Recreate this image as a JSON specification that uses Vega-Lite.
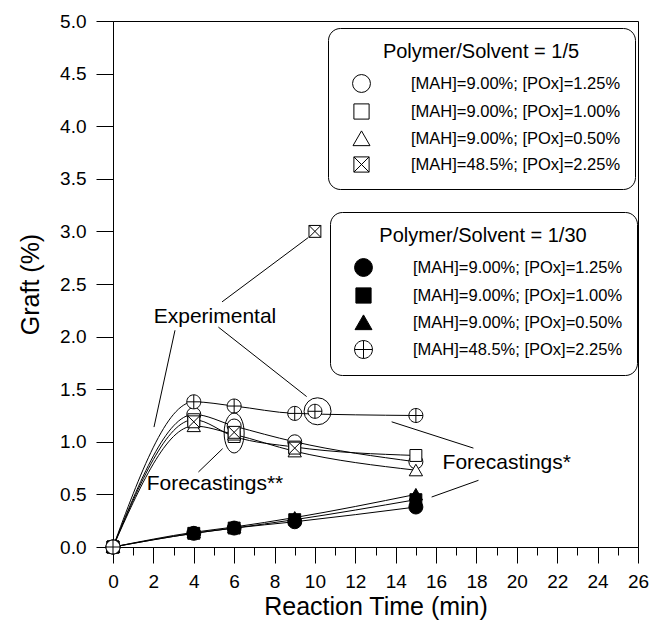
{
  "$schema": "https://vega.github.io/schema/vega-lite/v6.json",
  "width": 525,
  "height": 526,
  "autosize": {"type": "none"},
  "padding": {"left": 113, "top": 21, "right": 14, "bottom": 76},
  "config": {
    "font": "Liberation Sans",
    "view": {"stroke": "black", "strokeWidth": 1},
    "axis": {"domainColor": "black", "tickColor": "black", "labelColor": "black", "titleColor": "black", "grid": false, "labelFontSize": 19, "titleFontSize": 25, "titleFontWeight": "normal", "domainWidth": 1, "tickWidth": 1},
    "legend": {"strokeColor": "black", "strokeWidth": 1, "cornerRadius": 12, "fillColor": "white", "padding": 14, "titleFontSize": 20, "titleFontWeight": "normal", "titleColor": "black", "titleAnchor": "middle", "titlePadding": 12, "labelFontSize": 16.5, "labelColor": "black", "labelOffset": 40, "symbolSize": 320, "symbolStrokeWidth": 1, "symbolStrokeColor": "black", "symbolOffset": 10, "rowPadding": 6, "labelLimit": 400, "titleLimit": 400}
  },
  "datasets": {
    "points": [
      {"group": "1/5", "label": "[MAH]=9.00%; [POx]=1.25%", "t": 0, "g": 0},
      {"group": "1/5", "label": "[MAH]=9.00%; [POx]=1.25%", "t": 4, "g": 1.26},
      {"group": "1/5", "label": "[MAH]=9.00%; [POx]=1.25%", "t": 6, "g": 1.15},
      {"group": "1/5", "label": "[MAH]=9.00%; [POx]=1.25%", "t": 9, "g": 1.0},
      {"group": "1/5", "label": "[MAH]=9.00%; [POx]=1.25%", "t": 15, "g": 0.81},
      {"group": "1/5", "label": "[MAH]=9.00%; [POx]=1.00%", "t": 0, "g": 0},
      {"group": "1/5", "label": "[MAH]=9.00%; [POx]=1.00%", "t": 4, "g": 1.21},
      {"group": "1/5", "label": "[MAH]=9.00%; [POx]=1.00%", "t": 6, "g": 1.05},
      {"group": "1/5", "label": "[MAH]=9.00%; [POx]=1.00%", "t": 9, "g": 0.95},
      {"group": "1/5", "label": "[MAH]=9.00%; [POx]=1.00%", "t": 15, "g": 0.87},
      {"group": "1/5", "label": "[MAH]=9.00%; [POx]=0.50%", "t": 0, "g": 0},
      {"group": "1/5", "label": "[MAH]=9.00%; [POx]=0.50%", "t": 4, "g": 1.15},
      {"group": "1/5", "label": "[MAH]=9.00%; [POx]=0.50%", "t": 6, "g": 1.07},
      {"group": "1/5", "label": "[MAH]=9.00%; [POx]=0.50%", "t": 9, "g": 0.91},
      {"group": "1/5", "label": "[MAH]=9.00%; [POx]=0.50%", "t": 15, "g": 0.73},
      {"group": "1/5", "label": "[MAH]=48.5%; [POx]=2.25%", "t": 0, "g": 0},
      {"group": "1/5", "label": "[MAH]=48.5%; [POx]=2.25%", "t": 4, "g": 1.19},
      {"group": "1/5", "label": "[MAH]=48.5%; [POx]=2.25%", "t": 6, "g": 1.09},
      {"group": "1/5", "label": "[MAH]=48.5%; [POx]=2.25%", "t": 9, "g": 0.94},
      {"group": "1/5", "label": "[MAH]=48.5%; [POx]=2.25%", "t": 10, "g": 3.0},
      {"group": "1/30", "label": "[MAH]=9.00%; [POx]=1.25%", "t": 0, "g": 0},
      {"group": "1/30", "label": "[MAH]=9.00%; [POx]=1.25%", "t": 4, "g": 0.13},
      {"group": "1/30", "label": "[MAH]=9.00%; [POx]=1.25%", "t": 6, "g": 0.18},
      {"group": "1/30", "label": "[MAH]=9.00%; [POx]=1.25%", "t": 9, "g": 0.24},
      {"group": "1/30", "label": "[MAH]=9.00%; [POx]=1.25%", "t": 15, "g": 0.38},
      {"group": "1/30", "label": "[MAH]=9.00%; [POx]=1.00%", "t": 0, "g": 0},
      {"group": "1/30", "label": "[MAH]=9.00%; [POx]=1.00%", "t": 4, "g": 0.13},
      {"group": "1/30", "label": "[MAH]=9.00%; [POx]=1.00%", "t": 6, "g": 0.18},
      {"group": "1/30", "label": "[MAH]=9.00%; [POx]=1.00%", "t": 9, "g": 0.26},
      {"group": "1/30", "label": "[MAH]=9.00%; [POx]=1.00%", "t": 15, "g": 0.45},
      {"group": "1/30", "label": "[MAH]=9.00%; [POx]=0.50%", "t": 0, "g": 0},
      {"group": "1/30", "label": "[MAH]=9.00%; [POx]=0.50%", "t": 4, "g": 0.14},
      {"group": "1/30", "label": "[MAH]=9.00%; [POx]=0.50%", "t": 6, "g": 0.19},
      {"group": "1/30", "label": "[MAH]=9.00%; [POx]=0.50%", "t": 9, "g": 0.28},
      {"group": "1/30", "label": "[MAH]=9.00%; [POx]=0.50%", "t": 15, "g": 0.5},
      {"group": "1/30", "label": "[MAH]=48.5%; [POx]=2.25%", "t": 0, "g": 0},
      {"group": "1/30", "label": "[MAH]=48.5%; [POx]=2.25%", "t": 4, "g": 1.38},
      {"group": "1/30", "label": "[MAH]=48.5%; [POx]=2.25%", "t": 6, "g": 1.34},
      {"group": "1/30", "label": "[MAH]=48.5%; [POx]=2.25%", "t": 9, "g": 1.27},
      {"group": "1/30", "label": "[MAH]=48.5%; [POx]=2.25%", "t": 10, "g": 1.29},
      {"group": "1/30", "label": "[MAH]=48.5%; [POx]=2.25%", "t": 15, "g": 1.25}
    ],
    "notes": [
      {"t": 5.05, "g": 2.13, "text": "Experimental"},
      {"t": 5.05, "g": 0.54, "text": "Forecastings**"},
      {"t": 19.5, "g": 0.745, "text": "Forecastings*"}
    ],
    "pointers": [
      {"t": 5.4, "g": 2.33, "t2": 9.66, "g2": 2.94},
      {"t": 3.07, "g": 2.06, "t2": 2.03, "g2": 1.14},
      {"t": 5.22, "g": 2.09, "t2": 9.59, "g2": 1.43},
      {"t": 4.23, "g": 0.713, "t2": 5.43, "g2": 0.935},
      {"t": 13.8, "g": 1.19, "t2": 17.85, "g2": 0.94},
      {"t": 15.78, "g": 0.475, "t2": 18.1, "g2": 0.634}
    ],
    "rings": [
      {"kind": "ellipse", "t": 6.0, "g": 1.084},
      {"kind": "circle", "t": 10.13, "g": 1.29}
    ]
  },
  "resolve": {
    "scale": {"shape": "independent", "fill": "independent", "stroke": "independent"},
    "legend": {"shape": "independent", "fill": "independent", "stroke": "independent"},
    "axis": {"x": "independent", "y": "independent"}
  },
  "layer": [
    {
      "data": {"name": "points"},
      "transform": [{"filter": "!(datum.group == '1/5' && datum.label == '[MAH]=48.5%; [POx]=2.25%') && datum.t != 10"}],
      "mark": {"type": "line", "interpolate": "monotone", "color": "black", "strokeWidth": 1},
      "encoding": {
        "x": {"field": "t", "type": "quantitative", "scale": {"domain": [0, 26], "nice": false},
          "axis": {"orient": "bottom", "title": "Reaction Time (min)", "values": [0, 2, 4, 6, 8, 10, 12, 14, 16, 18, 20, 22, 24, 26], "tickSize": 16, "labelPadding": 9, "titlePadding": 3, "labelFlush": false}},
        "y": {"field": "g", "type": "quantitative", "scale": {"domain": [0, 5], "nice": false},
          "axis": {"orient": "left", "title": "Graft (%)", "values": [0, 0.5, 1, 1.5, 2, 2.5, 3, 3.5, 4, 4.5, 5], "format": ".1f", "tickSize": 17, "labelPadding": 10, "titlePadding": 16, "labelFlush": false}},
        "detail": [{"field": "group", "type": "nominal"}, {"field": "label", "type": "nominal"}]
      }
    },
    {
      "data": {"name": "pointers"},
      "mark": {"type": "rule", "color": "black", "strokeWidth": 1},
      "encoding": {
        "x": {"field": "t", "type": "quantitative", "scale": {"domain": [0, 26], "nice": false},
          "axis": {"orient": "bottom", "title": null, "values": [1, 3, 5, 7, 9, 11, 13, 15, 17, 19, 21, 23, 25], "labels": false, "domain": false, "tickSize": 8}},
        "x2": {"field": "t2"},
        "y": {"field": "g", "type": "quantitative", "scale": {"domain": [0, 5], "nice": false}, "axis": null},
        "y2": {"field": "g2"}
      }
    },
    {
      "data": {"name": "points"},
      "transform": [{"filter": "datum.group == '1/5'"}],
      "mark": {"type": "point", "filled": true, "strokeWidth": 1, "size": 196, "opacity": 1},
      "encoding": {
        "x": {"field": "t", "type": "quantitative", "scale": {"domain": [0, 26], "nice": false}, "axis": null},
        "y": {"field": "g", "type": "quantitative", "scale": {"domain": [0, 5], "nice": false}, "axis": null},
        "shape": {"field": "label", "type": "nominal",
          "scale": {"domain": ["[MAH]=9.00%; [POx]=1.25%", "[MAH]=9.00%; [POx]=1.00%", "[MAH]=9.00%; [POx]=0.50%", "[MAH]=48.5%; [POx]=2.25%"],
            "range": ["circle", "M-0.85,-0.85L0.85,-0.85L0.85,0.85L-0.85,0.85Z", "M0,-0.85L0.95,0.8L-0.95,0.8Z", "M-0.85,-0.85L0.85,-0.85L0.85,0.85L-0.85,0.85Z M-0.85,-0.85L0.85,0.85 M0.85,-0.85L-0.85,0.85"]},
          "legend": {"title": "Polymer/Solvent = 1/5", "orient": "none", "legendX": 215, "legendY": 7}},
        "fill": {"field": "label", "type": "nominal",
          "scale": {"domain": ["[MAH]=9.00%; [POx]=1.25%", "[MAH]=9.00%; [POx]=1.00%", "[MAH]=9.00%; [POx]=0.50%", "[MAH]=48.5%; [POx]=2.25%"],
            "range": ["white", "white", "white", "white"]},
          "legend": {"title": "Polymer/Solvent = 1/5", "orient": "none", "legendX": 215, "legendY": 7}},
        "stroke": {"field": "label", "type": "nominal",
          "scale": {"domain": ["[MAH]=9.00%; [POx]=1.25%", "[MAH]=9.00%; [POx]=1.00%", "[MAH]=9.00%; [POx]=0.50%", "[MAH]=48.5%; [POx]=2.25%"],
            "range": ["black", "black", "black", "black"]},
          "legend": {"title": "Polymer/Solvent = 1/5", "orient": "none", "legendX": 215, "legendY": 7}}
      }
    },
    {
      "data": {"name": "points"},
      "transform": [{"filter": "datum.group == '1/30'"}],
      "mark": {"type": "point", "filled": true, "strokeWidth": 1, "size": 196, "opacity": 1},
      "encoding": {
        "x": {"field": "t", "type": "quantitative", "scale": {"domain": [0, 26], "nice": false}, "axis": null},
        "y": {"field": "g", "type": "quantitative", "scale": {"domain": [0, 5], "nice": false}, "axis": null},
        "shape": {"field": "label", "type": "nominal",
          "scale": {"domain": ["[MAH]=9.00%; [POx]=1.25%", "[MAH]=9.00%; [POx]=1.00%", "[MAH]=9.00%; [POx]=0.50%", "[MAH]=48.5%; [POx]=2.25%"],
            "range": ["circle", "M-0.85,-0.85L0.85,-0.85L0.85,0.85L-0.85,0.85Z", "M0,-0.85L0.95,0.8L-0.95,0.8Z", "M-1,0A1,1,0,1,1,1,0A1,1,0,1,1,-1,0Z M-1,0L1,0 M0,-1L0,1"]},
          "legend": {"title": "Polymer/Solvent = 1/30", "orient": "none", "legendX": 217, "legendY": 191}},
        "fill": {"field": "label", "type": "nominal",
          "scale": {"domain": ["[MAH]=9.00%; [POx]=1.25%", "[MAH]=9.00%; [POx]=1.00%", "[MAH]=9.00%; [POx]=0.50%", "[MAH]=48.5%; [POx]=2.25%"],
            "range": ["black", "black", "black", "white"]},
          "legend": {"title": "Polymer/Solvent = 1/30", "orient": "none", "legendX": 217, "legendY": 191}},
        "stroke": {"field": "label", "type": "nominal",
          "scale": {"domain": ["[MAH]=9.00%; [POx]=1.25%", "[MAH]=9.00%; [POx]=1.00%", "[MAH]=9.00%; [POx]=0.50%", "[MAH]=48.5%; [POx]=2.25%"],
            "range": ["black", "black", "black", "black"]},
          "legend": {"title": "Polymer/Solvent = 1/30", "orient": "none", "legendX": 217, "legendY": 191}}
      }
    },
    {
      "data": {"name": "notes"},
      "mark": {"type": "text", "fontSize": 21, "align": "center", "baseline": "alphabetic", "color": "black"},
      "encoding": {
        "x": {"field": "t", "type": "quantitative", "scale": {"domain": [0, 26], "nice": false}, "axis": null},
        "y": {"field": "g", "type": "quantitative", "scale": {"domain": [0, 5], "nice": false}, "axis": null},
        "text": {"field": "text", "type": "nominal"}
      }
    },
    {
      "data": {"name": "rings"},
      "transform": [{"filter": "datum.kind == 'ellipse'"}],
      "mark": {"type": "point", "shape": "M0,-1A0.5,1,0,1,1,0,1A0.5,1,0,1,1,0,-1Z", "size": 1600, "filled": false, "color": "black", "strokeWidth": 1, "opacity": 1},
      "encoding": {
        "x": {"field": "t", "type": "quantitative", "scale": {"domain": [0, 26], "nice": false}, "axis": null},
        "y": {"field": "g", "type": "quantitative", "scale": {"domain": [0, 5], "nice": false}, "axis": null}
      }
    },
    {
      "data": {"name": "rings"},
      "transform": [{"filter": "datum.kind == 'circle'"}],
      "mark": {"type": "point", "shape": "circle", "size": 729, "filled": false, "color": "black", "strokeWidth": 1, "opacity": 1},
      "encoding": {
        "x": {"field": "t", "type": "quantitative", "scale": {"domain": [0, 26], "nice": false}, "axis": null},
        "y": {"field": "g", "type": "quantitative", "scale": {"domain": [0, 5], "nice": false}, "axis": null}
      }
    }
  ]
}
